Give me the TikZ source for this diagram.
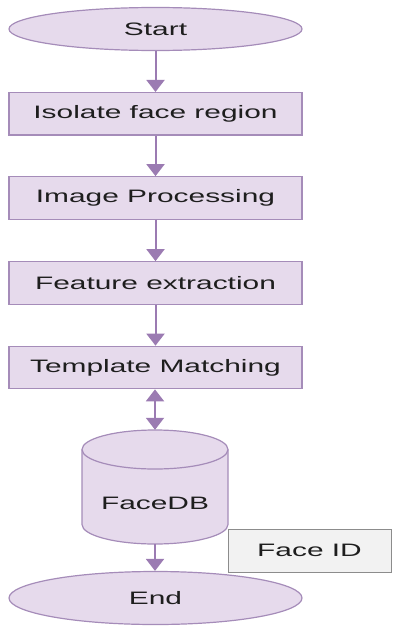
\documentclass[tikz,border=0pt]{standalone}
\usepackage{fontspec}
\setmainfont{Liberation Sans}[FakeStretch=1.66]
\usetikzlibrary{shapes.geometric,arrows.meta}
\definecolor{lav}{HTML}{E6DAEC}
\definecolor{lavborder}{HTML}{A58CB9}
\definecolor{arr}{HTML}{9B7BB2}
\definecolor{idfill}{HTML}{F2F2F2}
\definecolor{idborder}{HTML}{8C8C8C}
\definecolor{txt}{HTML}{1E1E1E}
\begin{document}
\begin{tikzpicture}[x=1pt,y=1pt,
  every node/.style={font=\fontsize{18}{20}\selectfont, text=txt},
  terminal/.style={ellipse, draw=lavborder, fill=lav, line width=1.2pt, inner sep=0pt, minimum width=293pt},
  procbox/.style={rectangle, draw=lavborder, fill=lav, line width=1.2pt, inner sep=0pt, minimum width=293pt, minimum height=42.5pt},
  flow/.style={draw=arr, line width=2pt, -{Triangle[length=12pt,width=18pt]}},
  bothflow/.style={draw=arr, line width=2pt, {Triangle[length=12pt,width=18pt]}-{Triangle[length=12pt,width=18pt]}}]
\useasboundingbox (0,-626) rectangle (392,0);
\node[terminal, minimum height=43pt] (start) at (155.5,-29) {Start};
\node[procbox] (iso) at (155.5,-113.8) {Isolate face region};
\node[procbox] (imp) at (155.5,-198) {Image Processing};
\node[procbox] (fex) at (155.5,-283) {Feature extraction};
\node[procbox] (tm) at (155.5,-367.5) {Template Matching};
% cylinder
\fill[lav] (82,-449.5) -- (82,-524.5) arc (180:360:73 and 19.5) -- (228,-449.5) arc (0:180:73 and 19.5) -- cycle;
\draw[lavborder, line width=1.2pt] (82,-449.5) -- (82,-524.5) arc (180:360:73 and 19.5) -- (228,-449.5) arc (0:180:73 and 19.5);
\draw[lavborder, line width=1.2pt] (82,-449.5) arc (180:360:73 and 19.5);
\node[rectangle, inner sep=0pt, minimum width=146pt, minimum height=114pt] (db) at (155,-487) {};
\node (dbtext) at (155,-503) {FaceDB};
\node[terminal, minimum height=53pt] (end) at (155.5,-598) {End};
\node[rectangle, draw=idborder, fill=idfill, line width=1pt, inner sep=0pt, minimum width=163pt, minimum height=43pt] (fid) at (309.5,-550.5) {Face ID};
\draw[flow] (start) -- (iso);
\draw[flow] (iso) -- (imp);
\draw[flow] (imp) -- (fex);
\draw[flow] (fex) -- (tm);
\draw[bothflow] (tm.south -| db.north) -- (db.north);
\draw[flow] (db.south) -- (end.north -| db.south);
\end{tikzpicture}
\end{document}
